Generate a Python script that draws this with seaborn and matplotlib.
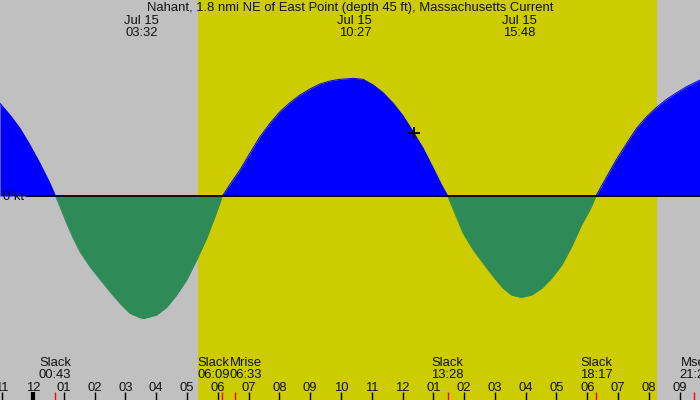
import numpy as np
import pandas as pd
import matplotlib
matplotlib.use("Agg")
import matplotlib.pyplot as plt
import matplotlib.transforms as mtransforms
import seaborn as sns

# ---------------- data ----------------
title = "Nahant, 1.8 nmi NE of East Point (depth 45 ft), Massachusetts Current"

# hours after midnight Jul 15, current speed in knots
hours = [-1.071, -0.747, -0.422, -0.097, 0.227, 0.552, 0.73,
         0.877, 1.094, 1.308, 1.526, 1.851, 2.175, 2.5, 2.825, 3.149, 3.474, 3.6,
         4.016, 4.341, 4.666, 4.99, 5.315, 5.64, 5.909, 6.15,
         6.396, 6.721, 7.045, 7.37, 7.695, 8.019, 8.344, 8.669, 8.994, 9.318, 9.643,
         9.968, 10.4, 10.72, 11.05, 11.37, 11.7, 12.02, 12.35, 12.67, 13.0, 13.27, 13.467,
         13.7, 13.97, 14.3, 14.62, 14.95, 15.27, 15.54, 15.8, 15.87, 16.19, 16.52, 16.84,
         17.17, 17.49, 17.81, 18.08, 18.283,
         18.63, 18.95, 19.28, 19.6, 19.925, 20.25, 20.575, 20.9, 21.22, 21.55, 21.66]
speed = [0.927, 0.81, 0.677, 0.51, 0.327, 0.127, 0.0,
         -0.107, -0.273, -0.423, -0.557, -0.707, -0.833, -0.957, -1.073, -1.173, -1.217, -1.225,
         -1.19, -1.113, -0.99, -0.84, -0.64, -0.423, -0.207, 0.0,
         0.115, 0.26, 0.427, 0.593, 0.727, 0.843, 0.933, 1.01, 1.07, 1.12, 1.15,
         1.167, 1.177, 1.167, 1.11, 1.033, 0.927, 0.80, 0.64, 0.477, 0.277, 0.11, 0.0,
         -0.173, -0.373, -0.54, -0.673, -0.807, -0.923, -0.99, -1.01, -1.013, -0.99, -0.923, -0.823,
         -0.69, -0.507, -0.29, -0.14, 0.0,
         0.193, 0.367, 0.527, 0.677, 0.793, 0.887, 0.967, 1.033, 1.093, 1.143, 1.16]

# maximum current times (top labels)
max_hours = [3.533, 10.45, 15.8]
max_dates = ["Jul 15", "Jul 15", "Jul 15"]
max_labels = ["03:32", "10:27", "15:48"]

# events (bottom labels)
event_names = ["Slack", "Slack", "Mrise", "Slack", "Slack", "Mset"]
event_hours = [0.717, 6.15, 6.55, 13.467, 18.283, 21.48]
event_labels = ["00:43", "06:09", "06:33", "13:28", "18:17", "21:29"]

# hour ticks
tick_hours = list(range(-1, 22))
tick_labels = ["11", "12", "01", "02", "03", "04", "05", "06", "07", "08", "09", "10",
               "11", "12", "01", "02", "03", "04", "05", "06", "07", "08", "09"]

sunrise, sunset = 5.36, 20.26
marker_hour, marker_speed = 12.37, 0.63

# ---------------- style ----------------
sns.set_theme(style="white")
plt.rcParams["font.family"] = ["Liberation Sans", "DejaVu Sans"]
FS = 9.4
TXT = "#111111"

BLUE = "#0000FF"
GREEN = "#2E8B57"
YELLOW = "#CCCC00"
GRAY = "#C0C0C0"

fig = plt.figure(figsize=(7, 4), dpi=100)
ax = fig.add_axes([0, 0, 1, 1])
ax.set_facecolor(GRAY)
ax.set_xlim(-1.07, 21.66)
ax.set_ylim(-2.04, 1.96)

ax.axvspan(sunrise, sunset, color=YELLOW, lw=0, zorder=0)

# split into flood/ebb phases at slack points
rows = []
pid = 0
for i, (h, s) in enumerate(zip(hours, speed)):
    rows.append((h, s, pid))
    if s == 0.0 and 0 < i < len(hours) - 1:
        pid += 1
        rows.append((h, s, pid))
pdf = pd.DataFrame(rows, columns=["hour", "speed", "phase"])
pdf["phase"] = pdf["phase"].astype(str)
palette = {}
for p, g in pdf.groupby("phase"):
    col = BLUE if g["speed"].mean() > 0 else GREEN
    palette[p] = col
    ax.fill_between(g["hour"], 0, g["speed"], color=col, lw=0, zorder=2)

sns.lineplot(data=pdf, x="hour", y="speed", hue="phase", palette=palette,
             legend=False, ax=ax, lw=0.7, zorder=3, sort=False, estimator=None)

# zero line
ax.axhline(0, xmin=26 / 700, color="black", lw=1.3, zorder=4)
ax.text(3 / 700, 1 - 200 / 400, "0 kt", transform=ax.transAxes,
        ha="left", va="baseline", fontsize=FS, color=TXT, zorder=5)

# plus marker
ax.plot([marker_hour], [marker_speed], marker="+", ms=8, mew=1.3, color="black", zorder=6)

# ticks
ax.set_xticks(tick_hours)
ax.set_xticklabels(tick_labels)
ax.set_yticks([])
ax.tick_params(axis="x", direction="in", length=5.8, width=1, color="black",
               pad=-13.2, labelsize=FS, labelcolor=TXT, bottom=True)
for sp in ax.spines.values():
    sp.set_visible(False)
ax.set_xlabel("")
ax.set_ylabel("")
ax.grid(False)

trans = mtransforms.blended_transform_factory(ax.transData, ax.transAxes)
ax.vlines([0], 0, 8 / 400, transform=trans, color="black", lw=3, zorder=5)
ax.vlines(event_hours, 0, 8 / 400, transform=trans, color="red", lw=1, zorder=5)

# event labels (with small shifts to avoid overlaps)
shifts = [0, -9, 11, 0, 0, 1]
for name, h, lab, dx in zip(event_names, event_hours, event_labels, shifts):
    ax.annotate(name, xy=(h, 1 - 366.5 / 400), xycoords=trans, xytext=(dx, 0),
                textcoords="offset pixels", ha="center", va="baseline", fontsize=FS, color=TXT)
    ax.annotate(lab, xy=(h, 1 - 378 / 400), xycoords=trans, xytext=(dx, 0),
                textcoords="offset pixels", ha="center", va="baseline", fontsize=FS, color=TXT)

# top labels
for h, d, lab in zip(max_hours, max_dates, max_labels):
    ax.text(h, 1 - 24 / 400, d, transform=trans, ha="center", va="baseline", fontsize=FS, color=TXT)
    ax.text(h, 1 - 36 / 400, lab, transform=trans, ha="center", va="baseline", fontsize=FS, color=TXT)

fig.text(0.5, 1 - 11 / 400, title, ha="center", va="baseline", fontsize=FS, color=TXT)

fig.savefig("out.png", dpi=100)
